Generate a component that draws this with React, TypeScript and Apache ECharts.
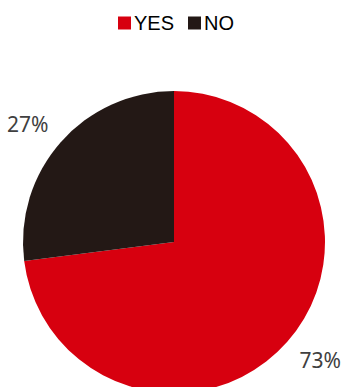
import React, { useEffect, useRef } from "react";
import * as echarts from "echarts";

const categories = ["YES", "NO"];
const values = [73, 27];
const colors = ["#D7000F", "#231815"];

export default function App() {
  const ref = useRef<HTMLDivElement>(null);
  useEffect(() => {
    document.body.style.margin = "0";
    const chart = echarts.init(ref.current!, undefined, { renderer: "svg" });
    chart.setOption({
      animation: false,
      legend: {
        top: 8,
        left: 113,
        itemWidth: 13,
        itemHeight: 13,
        itemGap: 14,
        icon: "rect",
        textStyle: { fontFamily: "Liberation Sans", fontSize: 20, color: "#000", padding: [0, 0, 0, -2] },
        data: categories,
      },
      series: [
        {
          type: "pie",
          center: [174, 242],
          radius: 151,
          startAngle: 90,
          clockwise: true,
          avoidLabelOverlap: false,
          label: {
            show: true,
            position: "outside",
            formatter: "{d}%",
            fontFamily: "Noto Sans",
            fontSize: 21,
            color: "#404040",
            distanceToLabelLine: -8,
          },
          labelLine: { show: false, length: 27, length2: 0 },
          emphasis: { disabled: true },
          data: categories.map((c, i) => ({
            name: c,
            value: values[i],
            itemStyle: { color: colors[i] },
          })),
        },
      ],
    });
    return () => chart.dispose();
  }, []);
  return <div ref={ref} style={{ width: 342, height: 387 }} />;
}
